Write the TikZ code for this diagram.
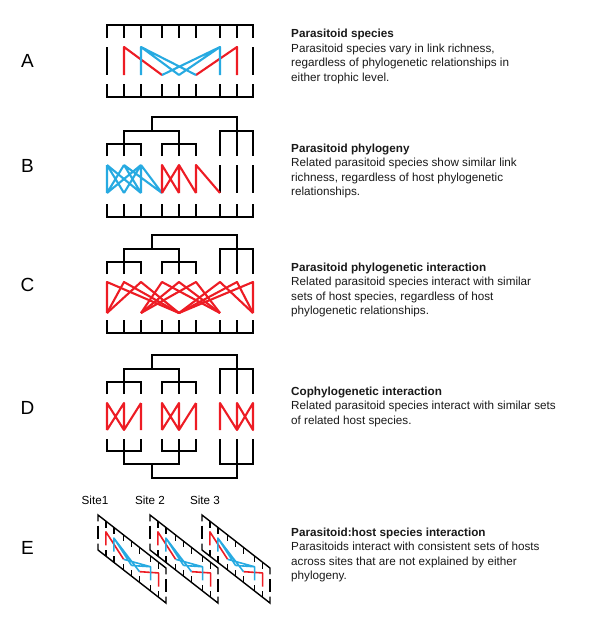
\documentclass[tikz,border=0pt]{standalone}
\usepackage{fontspec}
\setmainfont{Liberation Sans}
\definecolor{webred}{RGB}{237,28,36}
\definecolor{webblue}{RGB}{39,170,225}

% comb of host species (bar at 0, ticks down to 13)
\newcommand\hostcomb{%
  \draw[host] (107,13) -- (107,0) -- (253,0) -- (253,13);
  \foreach \x in {124,141,162,179,196,220,237} \draw[host] (\x,0) -- (\x,13);
}
% phylogeny of the nine species, root at 0
\newcommand\phylotree{%
  \draw[host] (107,39) |- (141,27) -- (141,39);
  \draw[host] (162,39) |- (196,27) -- (196,39);
  \draw[host] (124,39) -- (124,27) |- (179,14) -- (179,39);
  \draw[host] (152,14) |- (237,0) -- (237,39);
  \draw[host] (220,39) |- (253,14) -- (253,39);
}
% top (t) and bottom (b) ends of the links
\newcommand\rows[2]{%
  \foreach \i/\x in {1/107,2/124,3/141,4/162,5/179,6/196,7/220,8/237,9/253}
    {\coordinate (t\i) at (\x,#1); \coordinate (b\i) at (\x,#2);}
}
\newcommand\speciesweb{%
  \draw[host] (t1) -- (b1) (t9) -- (b9);
  \draw[redlink] (b2) -- (t2) -- (b4) (b8) -- (t8) -- (b6);
  \draw[bluelink] (b3) -- (t3) -- (b5) (t3) -- (b6) (b7) -- (t7) -- (b5) (t7) -- (b4);
}

\begin{document}
\begin{tikzpicture}[x=1pt, y=-1pt,
  host/.style={line width=1.8pt, line join=miter},
  redlink/.style={webred, line width=2.1pt, line join=round},
  bluelink/.style={webblue, line width=2.1pt, line join=round},
  panel/.style={font=\fontsize{19}{22}\selectfont, inner sep=0pt},
  desc/.style={font=\fontsize{11.7}{14.5}\selectfont, align=left, anchor=north west, inner sep=0pt, text=black!90},
  site/.style={font=\fontsize{11.7}{14}\selectfont, inner sep=0pt}]
\useasboundingbox (0,0) rectangle (590,624);

% A
\node[panel] (lblA) at (27.5,61) {A};
\begin{scope}[shift={(0,25)}] \hostcomb \end{scope}
\rows{47}{75}
\speciesweb
\begin{scope}[shift={(0,97)}, yscale=-1] \hostcomb \end{scope}
\node[desc] (txtA) at (291,29) {\textbf{Parasitoid species}\\Parasitoid species vary in link richness,\\regardless of phylogenetic relationships in\\either trophic level.};

% B
\node[panel] (lblB) at (27.5,166) {B};
\begin{scope}[shift={(0,117)}] \phylotree \end{scope}
\rows{165}{193}
\draw[host] (t7) -- (b7) (t8) -- (b8) (t9) -- (b9);
\draw[bluelink] (t1) -- (b1) (t1) -- (b2) (t1) -- (b3)
  (t2) -- (b1) (t2) -- (b3) (t2) -- (b4)
  (t3) -- (b1) (t3) -- (b2) (t3) -- (b3) (t3) -- (b4);
\draw[redlink] (b4) -- (t4) -- (b5) (b4) -- (t5) -- (b5) (t5) -- (b6) (b6) -- (t6) -- (b7);
\begin{scope}[shift={(0,217)}, yscale=-1] \hostcomb \end{scope}
\node[desc] (txtB) at (291,143.5) {\textbf{Parasitoid phylogeny}\\Related parasitoid species show similar link\\richness, regardless of host phylogenetic\\relationships.};

% C
\node[panel] (lblC) at (27.5,285) {C};
\begin{scope}[shift={(0,235)}] \phylotree \end{scope}
\rows{282}{313}
\foreach \i in {1,2,3} \draw[redlink] (b1) -- (t\i) -- (b5);
\foreach \i in {4,5,6} \draw[redlink] (b3) -- (t\i) -- (b7);
\foreach \i in {7,8,9} \draw[redlink] (b5) -- (t\i) -- (b9);
\begin{scope}[shift={(0,333)}, yscale=-1] \hostcomb \end{scope}
\node[desc] (txtC) at (291,262.5) {\textbf{Parasitoid phylogenetic interaction}\\Related parasitoid species interact with similar\\sets of host species, regardless of host\\phylogenetic relationships.};

% D
\node[panel] (lblD) at (27.5,408) {D};
\begin{scope}[shift={(0,355)}] \phylotree \end{scope}
\rows{403}{430}
\draw[redlink] (b1) -- (t1) -- (b2) -- (t2) -- (b1) (t3) -- (b2) (t3) -- (b3);
\draw[redlink] (b4) -- (t4) -- (b5) -- (t5) -- (b4) (t6) -- (b5) (t6) -- (b6);
\draw[redlink] (b7) -- (t7) -- (b8) -- (t8) -- (b9) -- (t9) -- (b8);
\begin{scope}[shift={(0,478)}, yscale=-1] \phylotree \end{scope}
\node[desc] (txtD) at (291,386.5) {\textbf{Cophylogenetic interaction}\\Related parasitoid species interact with similar sets\\of related host species.};

% E
\node[panel] (lblE) at (27.5,548) {E};
\node[site] (site1) at (95,500) {Site1};
\node[site] (site2) at (150,500) {Site 2};
\node[site] (site3) at (205,500) {Site 3};
\foreach \ox in {98,150,202} {
  \begin{scope}[shift={(\ox,515)}, yslant=-0.78, xscale=0.466, yscale=0.486, shift={(-107,-25)},
    host/.append style={line width=1.4pt},
    redlink/.append style={line width=1.6pt},
    bluelink/.append style={line width=1.6pt}]
    \begin{scope}[shift={(0,25)}] \hostcomb \end{scope}
    \rows{47}{75}
    \speciesweb
    \begin{scope}[shift={(0,97)}, yscale=-1] \hostcomb \end{scope}
  \end{scope}
}
\node[desc] (txtE) at (291,527.5) {\textbf{Parasitoid:host species interaction}\\Parasitoids interact with consistent sets of hosts\\across sites that are not explained by either\\phylogeny.};
\end{tikzpicture}
\end{document}
